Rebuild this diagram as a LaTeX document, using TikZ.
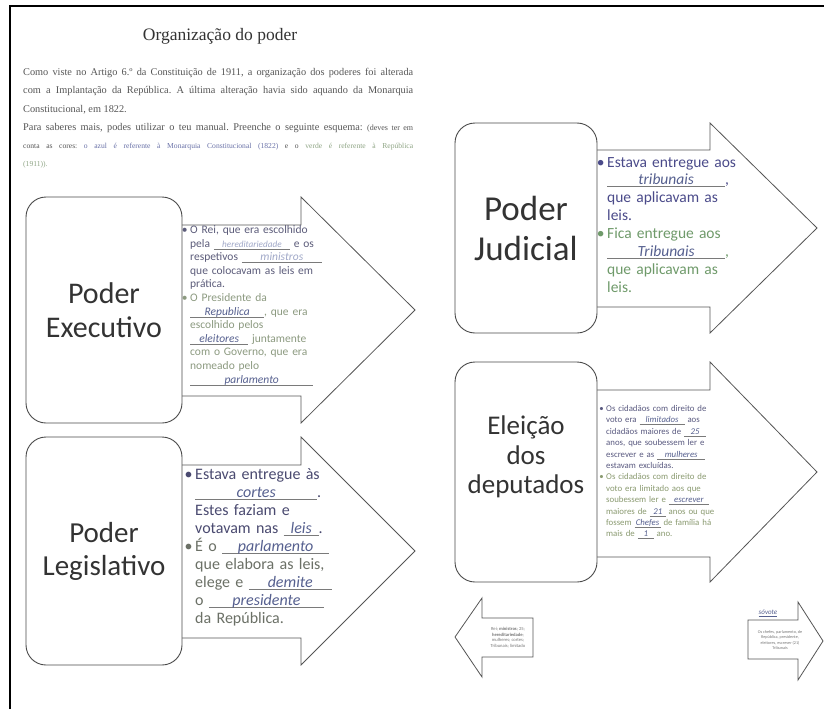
\documentclass[tikz,border=0pt]{standalone}
\usepackage{fontspec}
\setmainfont{Liberation Serif}
\newfontfamily\calfont{Carlito}
\usepackage{graphicx}
\frenchspacing
\definecolor{boxline}{HTML}{4A4A4A}
\definecolor{arrline}{HTML}{555555}
\definecolor{boxtext}{HTML}{333333}
\definecolor{hdrtext}{HTML}{555555}
\definecolor{titletext}{HTML}{333333}
\definecolor{hdrblue}{HTML}{6A72A8}
\definecolor{hdrgreen}{HTML}{8FA585}
\definecolor{exeblue}{HTML}{5C5C7A}
\definecolor{exegreen}{HTML}{8C9A80}
\definecolor{legblue}{HTML}{4A4A70}
\definecolor{leggreen}{HTML}{6B7066}
\definecolor{judblue}{HTML}{4B4B8A}
\definecolor{judgreen}{HTML}{6F9A6A}
\definecolor{eleblue}{HTML}{5A5A80}
\definecolor{elegreen}{HTML}{8A9A70}
\definecolor{hand}{HTML}{56608F}
\definecolor{handfaint}{HTML}{A0A8C8}
\definecolor{fillline}{HTML}{7A7A7A}
\definecolor{tinytext}{HTML}{777777}
\newcommand\fillin[3][hand]{\makebox[#2][l]{\rlap{\textcolor{fillline}{\rule[-2pt]{#2}{0.5pt}}}\makebox[#2][c]{\textcolor{#1}{\itshape #3}}}}
\newcommand\bul{\leavevmode\llap{•\hspace{2.5pt}}}
\begin{document}
\begin{tikzpicture}[x=1pt,y=-1pt,
  pbox/.style={draw=boxline, line width=0.9pt, fill=white, rounded corners=20pt, inner sep=0pt},
  plabel/.style={align=center, text=boxtext, inner sep=0pt},
  parrow/.style={draw=arrline, line width=0.8pt, fill=white, line join=miter},
  ptext/.style={anchor=base west, inner sep=0pt, align=left, text width=#1},
  hline/.style={anchor=base west, inner sep=0pt, text=hdrtext, font=\fontsize{10.3}{12}\selectfont}]
\useasboundingbox (0,0) rectangle (824,709);
\fill[white] (0,0) rectangle (824,709);
\draw[line width=2pt] (10,709) -- (10,6) -- (824,6);

% ---------- header ----------
\node[anchor=base, inner sep=0pt, text=titletext, font=\fontsize{17.5}{20}\selectfont] (title) at (220,41) {Organização do poder};
\node[hline] (h1) at (23,75.5) {\makebox[390pt][s]{Como viste no Artigo 6.º da Constituição de 1911, a organização dos poderes foi alterada}};
\node[hline] (h2) at (23,93.5) {\makebox[390pt][s]{com a Implantação da República. A última alteração havia sido aquando da Monarquia}};
\node[hline] (h3) at (23,112) {Constitucional, em 1822.};
\node[hline] (h4) at (23,130.5) {\makebox[390pt][s]{Para saberes mais, podes utilizar o teu manual. Preenche o seguinte esquema: {\fontsize{8}{10}\selectfont(deves ter em}}};
\node[hline, font=\fontsize{7.6}{9}\selectfont] (h5) at (23,148.5) {\makebox[390pt][s]{conta as cores: \textcolor{hdrblue}{o azul é referente à Monarquia Constitucional (1822)} e o \textcolor{hdrgreen}{verde é referente à República}}};
\node[hline, font=\fontsize{7.6}{9}\selectfont, text=hdrgreen] (h6) at (23,166.5) {(1911)).};

% ---------- Poder Executivo ----------
\draw[parrow] (170,225) -- (301,225) -- (301,197) -- (415,310) -- (301,423) -- (301,396) -- (170,396);
\node[pbox, minimum width=156pt, minimum height=226pt] (exe) at (104,310) {};
\node[plabel, font=\calfont\fontsize{30}{34}\selectfont] (exeL) at (104,310) {Poder\\Executivo};
\node[ptext=150pt, font=\calfont\fontsize{11.5}{13.6}\selectfont] (exeT) at (190,233.5) {%
\color{exeblue}\bul O Rei, que era escolhido\\
pela \fillin[handfaint]{76pt}{\scalebox{0.8}{hereditariedade}} e os\\
respetivos \fillin[handfaint]{80pt}{ministros}\\
que colocavam as leis em\\
prática.\\
\color{exegreen}\bul O Presidente da\\
\fillin{74pt}{Republica}, que era\\
escolhido pelos\\
\fillin{58pt}{eleitores} juntamente\\
com o Governo, que era\\
nomeado pelo\\
\fillin{123pt}{parlamento}};

% ---------- Poder Legislativo ----------
\draw[parrow] (170,465) -- (301,465) -- (301,437) -- (415,551) -- (301,665) -- (301,638) -- (170,638);
\node[pbox, minimum width=156pt, minimum height=228pt] (leg) at (104,551) {};
\node[plabel, font=\calfont\fontsize{29}{33}\selectfont] (legL) at (104,551) {Poder\\Legislativo};
\node[ptext=150pt, font=\calfont\fontsize{16}{18}\selectfont] (legT) at (195,479) {%
\color{legblue}\bul Estava entregue às\\
\fillin{122pt}{cortes}.\\
Estes faziam e\\
votavam nas \fillin{35pt}{leis}.\\
\color{leggreen}\bul É o \fillin{107pt}{parlamento}\\
que elabora as leis,\\
elege e \fillin{83pt}{demite}\\
o \fillin{115pt}{presidente}\\
da República.};

% ---------- Poder Judicial ----------
\draw[parrow] (590,150) -- (710,150) -- (710,123) -- (817,228) -- (710,333) -- (710,307) -- (590,307);
\node[pbox, minimum width=142pt, minimum height=210pt] (jud) at (526,228) {};
\node[plabel, font=\calfont\fontsize{35}{40}\selectfont] (judL) at (526,228) {Poder\\Judicial};
\node[ptext=150pt, font=\calfont\fontsize{15.5}{17.9}\selectfont] (judT) at (607,167) {%
\color{judblue}\bul Estava entregue aos\\
\fillin{118pt}{tribunais},\\
que aplicavam as\\
leis.\\
\color{judgreen}\bul Fica entregue aos\\
\fillin{118pt}{Tribunais},\\
que aplicavam as\\
leis.};

% ---------- Eleição dos deputados ----------
\draw[parrow] (590,390) -- (710,390) -- (710,362) -- (817,472) -- (710,582) -- (710,557) -- (590,557);
\node[pbox, minimum width=142pt, minimum height=220pt] (ele) at (526,472) {};
\node[plabel, font=\calfont\fontsize{27}{29.5}\selectfont] (eleL) at (526,457) {Eleição\\dos\\deputados};
\node[ptext=150pt, font=\calfont\fontsize{8.8}{11.4}\selectfont] (eleT) at (606,411.5) {%
\color{eleblue}\bul Os cidadãos com direito de\\
voto era \fillin{45pt}{limitados} aos\\
cidadãos maiores de \fillin{22pt}{25}\\
anos, que soubessem ler e\\
escrever e as \fillin{48pt}{mulheres}\\
estavam excluídas.\\
\color{elegreen}\bul Os cidadãos com direito de\\
voto era limitado aos que\\
soubessem ler e \fillin{40pt}{escrever}\\
maiores de \fillin{16pt}{21} anos ou que\\
fossem \fillin{26pt}{Chefes} de família há\\
mais de \fillin{16pt}{1} ano.};

% ---------- small arrows ----------
\draw[parrow] (455,637) -- (482,598) -- (482,618) -- (533,618) -- (533,657) -- (482,657) -- (482,677) -- cycle;
\node[plabel, text=tinytext, font=\calfont\fontsize{4.6}{5.6}\selectfont] (wordsL) at (508,637.5) {Rei; \textbf{ministros}; 25;\\\textbf{hereditariedade};\\mulheres; cortes;\\Tribunais; limitado};
\draw[parrow] (748,620) -- (798,620) -- (798,602) -- (823,641) -- (798,680) -- (798,659) -- (748,659) -- cycle;
\node[inner sep=0pt, text=hand, font=\calfont\itshape\fontsize{7}{8}\selectfont] (sovote) at (768,613) {\underline{sóvote}};
\node[plabel, text=tinytext, font=\calfont\fontsize{4.2}{5.4}\selectfont] (wordsR) at (780,640) {Os chefes, parlamento, de\\República, presidente,\\eleitores, escrever (21)\\Tribunais};
\end{tikzpicture}
\end{document}
